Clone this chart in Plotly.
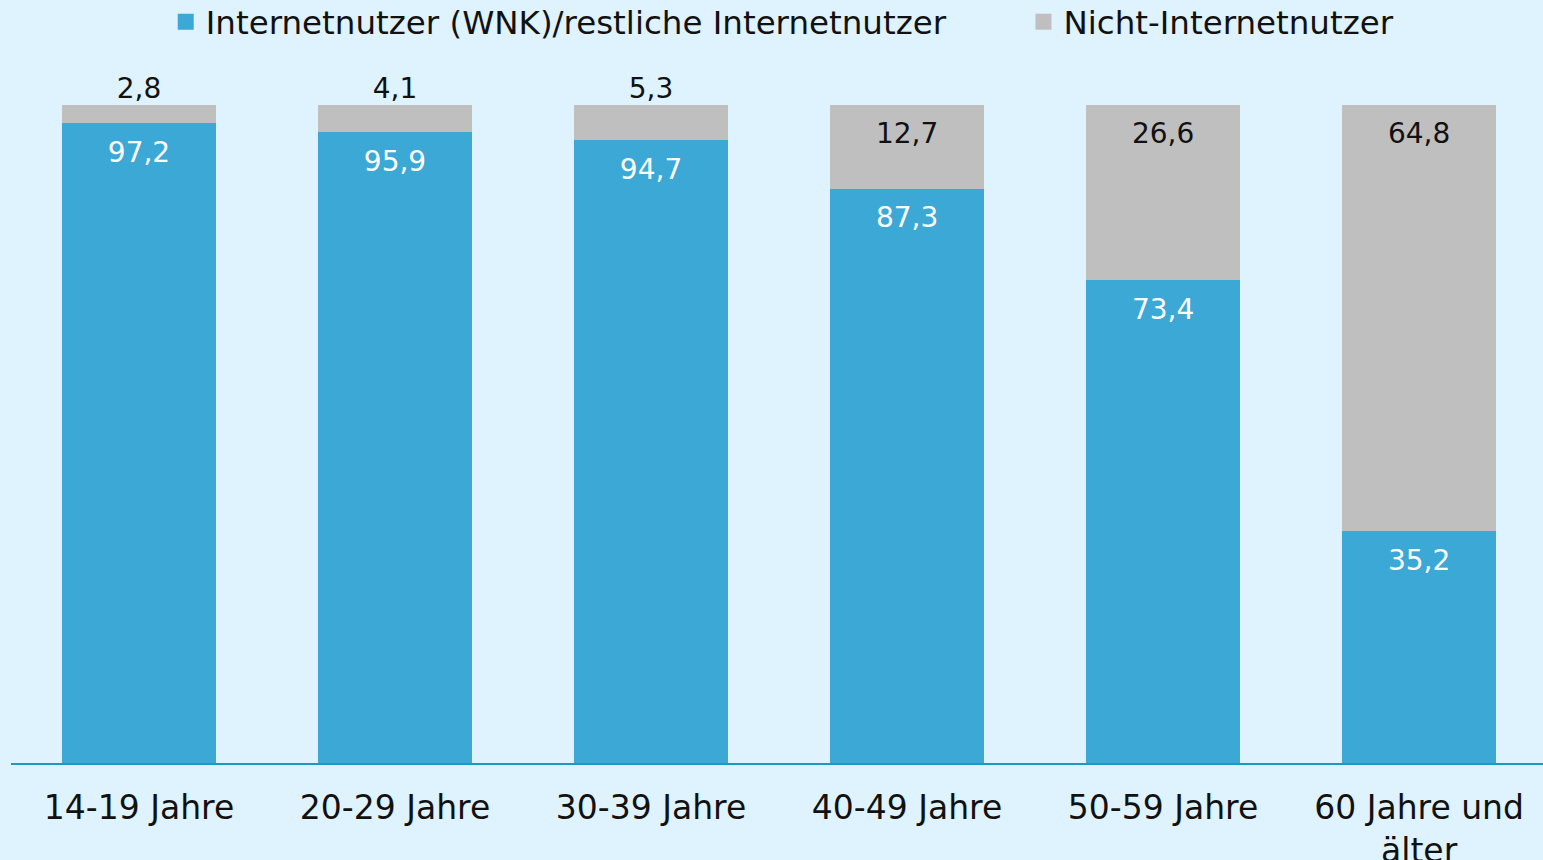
import plotly.graph_objects as go

# Data
categories = ["14-19 Jahre", "20-29 Jahre", "30-39 Jahre", "40-49 Jahre",
              "50-59 Jahre", "60 Jahre und<br>älter"]
internet_users = [97.2, 95.9, 94.7, 87.3, 73.4, 35.2]
non_users = [2.8, 4.1, 5.3, 12.7, 26.6, 64.8]
legend_names = ["Internetnutzer (WNK)/restliche Internetnutzer", "Nicht-Internetnutzer"]

blue = "#3BA8D5"
grey = "#BFBFBF"
bg = "#DFF3FE"
font_family = "DejaVu Sans"
label_size = 28

def fmt(v):
    return f"{v:.1f}".replace(".", ",")

totals = [a + b for a, b in zip(internet_users, non_users)]

fig = go.Figure()

fig.add_trace(go.Bar(
    x=categories, y=internet_users,
    marker=dict(color=blue, line=dict(width=0)),
    showlegend=False, hoverinfo="x+y",
))
fig.add_trace(go.Bar(
    x=categories, y=non_users,
    marker=dict(color=grey, line=dict(width=0)),
    showlegend=False, hoverinfo="x+y",
))

# value labels: blue ones just under the top of the blue segment
fig.add_trace(go.Scatter(
    x=categories, y=internet_users, mode="markers+text",
    marker=dict(size=27, opacity=0),
    text=[fmt(v) for v in internet_users], textposition="bottom center",
    textfont=dict(color="white", size=label_size, family=font_family),
    showlegend=False, hoverinfo="skip", cliponaxis=False,
))
# grey ones: above the bar when small, inside at the top otherwise
small = [v < 10 for v in non_users]
fig.add_trace(go.Scatter(
    x=categories, y=totals, mode="markers+text",
    marker=dict(size=[0 if s else 25 for s in small], opacity=0),
    text=[fmt(v) for v in non_users],
    textposition=["top center" if s else "bottom center" for s in small],
    textfont=dict(color="#111111", size=label_size, family=font_family),
    showlegend=False, hoverinfo="skip", cliponaxis=False,
))

# legend entries with bigger square symbols (nbsp padding widens the gap)
fig.add_trace(go.Scatter(
    x=[None], y=[None], mode="markers",
    marker=dict(symbol="square", size=18, color=blue),
    name=legend_names[0] + "\u00a0" * 7,
))
fig.add_trace(go.Scatter(
    x=[None], y=[None], mode="markers",
    marker=dict(symbol="square", size=18, color=grey),
    name=legend_names[1],
))

fig.update_layout(
    barmode="stack",
    bargap=0.4,
    width=1543, height=860,
    margin=dict(l=11, r=0, t=105, b=97, autoexpand=False),
    paper_bgcolor=bg, plot_bgcolor=bg,
    font=dict(family=font_family, color="#111111", size=32),
    legend=dict(
        orientation="h", x=0.101, xanchor="left", y=1.126, yanchor="middle",
        font=dict(size=32.5), itemwidth=30, traceorder="normal",
        bgcolor="rgba(0,0,0,0)",
    ),
    xaxis=dict(
        range=[-0.5, 5.484], showgrid=False, zeroline=False,
        showline=True, linecolor="#1B98C9", linewidth=2,
        ticks="outside", ticklen=14, tickcolor="rgba(0,0,0,0)",
        tickfont=dict(size=33), automargin=False,
    ),
    yaxis=dict(range=[0, 100], visible=False),
)

fig.write_html("out.html", config={"displayModeBar": False},
               post_script="document.body.style.margin='0';")
